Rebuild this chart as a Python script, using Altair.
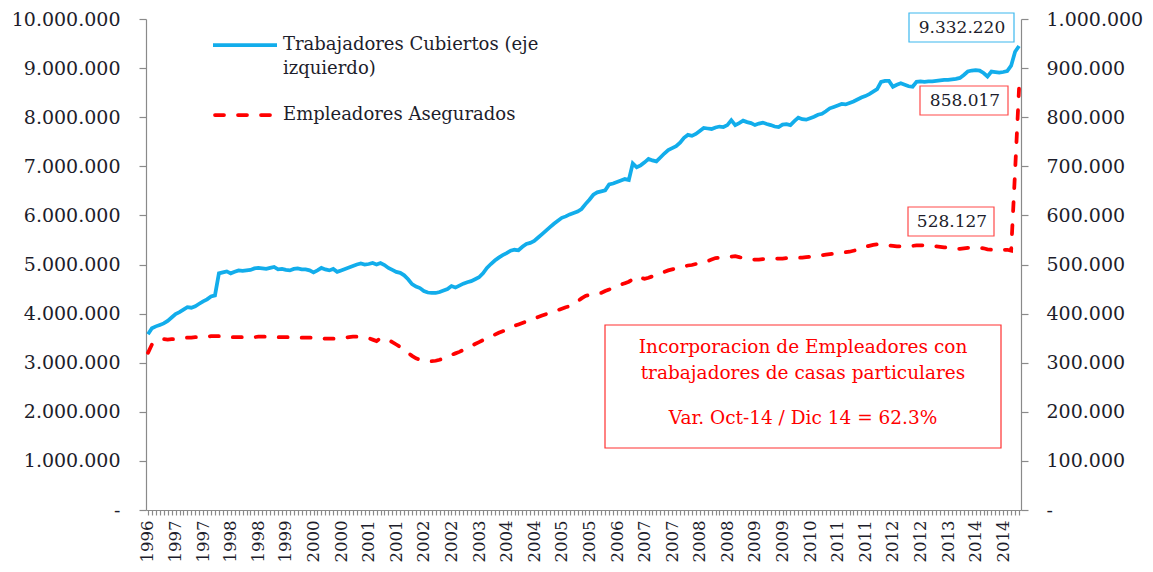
import json
import altair as alt
import pandas as pd

# Monthly series, July 1996 .. December 2014 (values in thousands)
START_YEAR, START_MONTH = 1996, 7

trabajadores_k = [
    3580, 3700, 3740, 3770, 3800, 3850, 3920, 3990, 4030, 4080,
    4130, 4120, 4150, 4200, 4250, 4290, 4350, 4370, 4820, 4840,
    4860, 4820, 4850, 4880, 4870, 4880, 4890, 4920, 4930, 4920,
    4910, 4930, 4950, 4900, 4910, 4890, 4880, 4910, 4920, 4900,
    4900, 4880, 4840, 4880, 4930, 4900, 4880, 4910, 4850, 4880,
    4910, 4940, 4970, 5000, 5020, 5000, 5010, 5030, 5000, 5030,
    4990, 4930, 4890, 4850, 4830, 4780, 4700, 4600, 4550, 4520,
    4460, 4430, 4420, 4420, 4440, 4470, 4500, 4560, 4530, 4570,
    4610, 4640, 4660, 4700, 4740, 4820, 4930, 5010, 5080, 5140,
    5190, 5230, 5280, 5300, 5290, 5360, 5420, 5440, 5480, 5550,
    5620, 5690, 5760, 5830, 5890, 5950, 5980, 6020, 6050, 6080,
    6130, 6230, 6320, 6420, 6470, 6490, 6510, 6630, 6650, 6680,
    6710, 6740, 6720, 7060, 6980, 7020, 7080, 7150, 7120, 7100,
    7180, 7260, 7330, 7370, 7410, 7480, 7580, 7640, 7620, 7660,
    7720, 7780, 7770, 7760, 7790, 7810, 7800, 7840, 7940, 7840,
    7880, 7930, 7900, 7880, 7840, 7870, 7890, 7860, 7840, 7810,
    7800, 7850, 7860, 7840, 7920, 7990, 7960, 7950, 7980, 8010,
    8050, 8070, 8120, 8180, 8210, 8240, 8270, 8260, 8290, 8320,
    8360, 8400, 8430, 8470, 8520, 8570, 8720, 8740, 8740, 8620,
    8660, 8690, 8660, 8630, 8620, 8720, 8730, 8720, 8730, 8730,
    8740, 8750, 8760, 8760, 8770, 8780, 8800, 8860, 8930, 8950,
    8960, 8950, 8900, 8830, 8930, 8920, 8910, 8920, 8940, 9050,
    9332.220, 9450,
]

empleadores_k = [
    320, 337, 344, 347, 348, 347, 348, 348, 349, 350,
    351, 351, 352, 352, 353, 353, 354, 354, 354, 353,
    353, 352, 352, 352, 352, 351, 352, 352, 353, 353,
    353, 352, 352, 352, 352, 352, 352, 352, 351, 351,
    351, 351, 351, 350, 350, 349, 349, 349, 349, 350,
    351, 352, 353, 353, 352, 351, 350, 347, 344, 350,
    349, 346, 342, 337, 332, 327, 320, 314, 309, 306,
    304, 303, 303, 304, 306, 309, 312, 316, 319, 322,
    326, 330, 334, 338, 342, 346, 349, 353, 357, 361,
    364, 367, 371, 375, 378, 381, 384, 387, 390, 393,
    396, 399, 402, 405, 407, 410, 413, 415, 420, 425,
    431, 436, 438, 440, 441, 442, 446, 449, 453, 456,
    459, 462, 465, 470, 476, 473, 471, 473, 476, 479,
    482, 485, 488, 490, 492, 494, 496, 498, 499, 501,
    502, 504, 507, 510, 513, 514, 515, 515, 516, 517,
    515, 513, 511, 510, 510, 510, 511, 511, 511, 512,
    512, 512, 513, 513, 513, 514, 514, 515, 516, 517,
    518, 519, 520, 521, 522, 523, 524, 525, 526, 528,
    530, 533, 536, 538, 540, 541, 542, 541, 539, 538,
    537, 537, 537, 538, 538, 539, 539, 539, 539, 538,
    537, 536, 535, 534, 533, 532, 532, 533, 534, 534,
    534, 534, 533, 531, 530, 529, 529, 530, 530, 528.127,
    690, 858.017,
]

LEFT_TICKS = [i * 1_000_000 for i in range(11)]
RIGHT_TICKS = [i * 100_000 for i in range(11)]
LABEL_STEP = 7

legend_labels = ["Trabajadores Cubiertos (eje", "izquierdo)", "Empleadores Asegurados"]
note_lines = ["Incorporacion de Empleadores con",
              "trabajadores de casas particulares",
              "Var. Oct-14 / Dic 14 = 62.3%"]

n = min(len(trabajadores_k), len(empleadores_k))
idx = list(range(n))
years = [START_YEAR + (START_MONTH - 1 + i) // 12 for i in idx]
x_labels = [str(years[i]) if i % LABEL_STEP == 0 else "" for i in idx]

df = pd.DataFrame({
    "idx": idx,
    "trab": [round(v * 1000) for v in trabajadores_k[:n]],
    "emp": [round(v * 1000) for v in empleadores_k[:n]],
})


def fmt(v):
    return f"{v:,.0f}".replace(",", ".")


blue_label = fmt(df["trab"].iloc[n - 2])
red_high = fmt(df["emp"].iloc[n - 1])
red_low = fmt(df["emp"].iloc[n - 3])

FONT = "DejaVu Serif"
BLUE = "#12ADEB"
RED = "#FF0000"
TXT = "#1d1d2b"
GRAY = "#8a8a8a"

num_expr = "datum.value === 0 ? '-' : replace(format(datum.value, ','), regexp(',', 'g'), '.')"

W, H = 875, 491

x_enc = alt.X(
    "idx:Q",
    scale=alt.Scale(domain=[-0.5, n - 0.5], nice=False, zero=False),
    axis=alt.Axis(
        title=None, values=idx, tickCount=n + 50,
        labelExpr=f"{json.dumps(x_labels)}[datum.value]",
        labelAngle=270, labelAlign="right", labelBaseline="middle",
        tickSize=5, labelPadding=5, labelOverlap=False, labelBound=False,
        labelFlush=False, grid=False, labelFontSize=16.5,
    ),
)

base = alt.Chart(df)

blue = base.mark_line(color=BLUE, strokeWidth=3.75).encode(
    x=x_enc,
    y=alt.Y("trab:Q", scale=alt.Scale(domain=[0, 10_000_000], nice=False),
            axis=alt.Axis(orient="left", title=None, values=LEFT_TICKS,
                          labelExpr=num_expr, tickSize=7, labelPadding=19,
                          grid=False)),
)

red = base.mark_line(color=RED, strokeWidth=3.75, strokeDash=[9, 14],
                     strokeCap="round").encode(
    x=alt.X("idx:Q"),
    y=alt.Y("emp:Q", scale=alt.Scale(domain=[0, 1_000_000], nice=False),
            axis=alt.Axis(orient="right", title=None, values=RIGHT_TICKS,
                          labelExpr=num_expr, tickSize=7, labelPadding=18,
                          grid=False)),
)

one = alt.Chart(pd.DataFrame({"a": [0]}))


def box(x1, x2, y1, y2, color):
    return one.mark_rect(fill="white", stroke=color, strokeWidth=1.2).encode(
        x=alt.value(x1), x2=alt.value(x2), y=alt.value(y1), y2=alt.value(y2))


def label(txt, x, y, color=TXT, size=17, align="center"):
    return one.mark_text(text=txt, font=FONT, fontSize=size, color=color,
                         align=align, baseline="middle").encode(
        x=alt.value(x), y=alt.value(y))


legend_blue = one.mark_rule(color=BLUE, strokeWidth=3.75).encode(
    x=alt.value(67), x2=alt.value(131), y=alt.value(26))
legend_red = one.mark_rule(color=RED, strokeWidth=3.75, strokeDash=[9, 14],
                           strokeCap="round").encode(
    x=alt.value(69), x2=alt.value(131), y=alt.value(96))

layers = [
    blue, red,
    legend_blue, legend_red,
    label(legend_labels[0], 137, 26, size=18, align="left"),
    label(legend_labels[1], 137, 50, size=18, align="left"),
    label(legend_labels[2], 137, 96, size=18, align="left"),
    box(763, 868, -6, 23, "#3db8ee"), label(blue_label, 816, 9),
    box(774, 862, 67, 96, "#ff4a4a"), label(red_high, 819, 82),
    box(762, 848, 188, 217, "#ff4a4a"), label(red_low, 806, 203),
    box(459, 855, 306, 429, "#ff3030"),
    label(note_lines[0], 657, 328, color=RED, size=18.5),
    label(note_lines[1], 657, 354, color=RED, size=18.5),
    label(note_lines[2], 657, 399, color=RED, size=18.5),
]

chart = alt.layer(*layers).resolve_scale(y="independent").properties(
    width=W, height=H,
    autosize=alt.AutoSizeParams(type="none"),
    padding={"left": 138, "top": 11, "right": 122, "bottom": 53},
).configure_view(stroke=None).configure_axis(
    labelFont=FONT, labelFontSize=19, labelColor=TXT,
    domainColor=GRAY, tickColor=GRAY, domainWidth=1.2, tickWidth=1.2,
)

chart.save("out.html", embed_options={"renderer": "svg", "actions": False})
